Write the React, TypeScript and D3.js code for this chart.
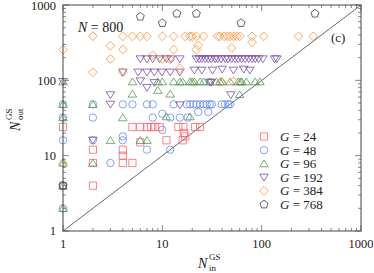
import React from 'react';
import * as d3 from 'd3';

// N_in, N_out pairs, one array per G
const g24: [number, number][] = [
  [1, 4], [1, 24], [2, 4], [2, 8], [2, 12], [4, 8], [4, 10], [4, 12], [5, 8],
  [5, 24], [6, 24], [7, 24], [7.7, 24], [8.4, 24], [9.4, 24], [6, 15], [11, 16],
  [16, 16], [14.5, 24], [16.3, 24], [21.4, 24], [24, 24], [16.5, 20], [17, 18],
];
const g48: [number, number][] = [
  [1, 2], [1, 4], [1, 16], [1, 32], [1, 48], [2, 16], [2, 32], [2, 48], [3, 8],
  [4, 48], [4, 18], [4, 16], [5, 48], [7, 12], [7, 48], [8, 48], [8, 32], [10, 22],
  [10, 36], [12, 12], [12, 32], [15, 32], [18, 32], [13, 48], [17.6, 48], [19, 48],
  [20.5, 48], [22, 48], [24, 48], [26, 48], [28, 48], [30, 48], [31.5, 48],
  [39.6, 48], [42.7, 48], [46, 48], [48, 48], [23, 38], [29, 38],
];
const g96: [number, number][] = [
  [1, 2], [1, 4], [1, 8], [1, 32], [1, 48], [1, 96], [2, 8], [2, 48], [3, 16],
  [4, 32], [6, 16], [7, 16], [5, 96], [5, 66], [9, 96], [9, 74], [10, 96], [12, 66],
  [13, 96], [15, 96], [16, 96], [19, 96], [20, 96], [21, 96], [24, 96], [26, 96],
  [30, 96], [35, 96], [38, 96], [40, 96], [48, 96], [58, 96], [61, 96], [63, 96],
  [70, 96], [86, 96], [96, 96], [60, 65], [19, 33], [11, 33],
];
const g192: [number, number][] = [
  [1, 96], [2, 16], [3, 64], [3, 48], [15, 47], [30, 94], [31, 94], [49, 64],
  [6, 192], [7, 192], [8, 192], [9.4, 192], [11, 192], [12.2, 192], [15, 192],
  [22, 192], [23.5, 192], [25, 192], [27, 192], [29, 192], [31, 192], [34, 192],
  [36, 192], [39, 192], [43, 192], [46, 192], [50, 192], [54, 192], [58, 192],
  [63, 192], [68, 192], [74, 192], [80, 192], [86, 192], [93, 192], [103, 192],
  [135, 192], [142, 192],
  [4, 128], [5.7, 128], [7, 128], [8.3, 128], [9.9, 128], [12, 128], [15, 128],
  [21, 136], [25, 136], [32, 136], [40, 140], [52, 136], [66, 140], [76, 136],
  [6, 98], [7, 80], [8.3, 93],
];
const g384: [number, number][] = [
  [1, 256], [2, 384], [2, 128], [3, 288], [3, 192], [4, 256], [4, 128], [4, 384],
  [5, 384], [6, 384], [7, 384], [8, 215], [10, 384], [10, 192], [13, 384], [13, 256],
  [15, 144], [17, 384], [19, 384], [20, 384], [22, 384], [22, 256], [23, 290],
  [26, 384], [36, 384], [38, 384], [42, 384], [45, 384], [48, 384], [52, 384],
  [56, 384], [60, 384], [80, 384], [80, 320], [105, 384], [235, 384], [330, 384],
  [50, 270], [39, 96], [52, 96], [1, 8], [12, 190],
];
const g768: [number, number][] = [
  [1, 4], [6, 700], [10, 576], [14, 768], [22, 768], [62, 576], [344, 768],
];

const groupSizes = ['24', '48', '96', '192', '384', '768'];
const seriesData = [g24, g48, g96, g192, g384, g768];
const shapes = ['square', 'circle', 'triangle', 'down', 'diamond', 'pentagon'];
const colors = ['#ff5c5c', '#5f86ea', '#4f944f', '#73459e', '#ff8a2c', '#333333'];

const axisValues = [1, 10, 100, 1000];

const W = 374;
const H = 273;
const box = { left: 63, right: 361, top: 5, bottom: 231 };
const FONT = '"Liberation Serif", "DejaVu Serif", serif';

function markerPath(shape: string, cx: number, cy: number): string {
  switch (shape) {
    case 'square': {
      const h = 3.6;
      return `M${cx - h},${cy - h}H${cx + h}V${cy + h}H${cx - h}Z`;
    }
    case 'circle': {
      const r = 3.7;
      return `M${cx - r},${cy}A${r},${r} 0 1,0 ${cx + r},${cy}A${r},${r} 0 1,0 ${cx - r},${cy}Z`;
    }
    case 'triangle': {
      const w = 4.3, h = 3.7;
      return `M${cx},${cy - h}L${cx + w},${cy + h * 0.85}L${cx - w},${cy + h * 0.85}Z`;
    }
    case 'down': {
      const w = 4.3, h = 3.7;
      return `M${cx},${cy + h}L${cx + w},${cy - h * 0.85}L${cx - w},${cy - h * 0.85}Z`;
    }
    case 'diamond': {
      const d = 4.4;
      return `M${cx},${cy - d}L${cx + d},${cy}L${cx},${cy + d}L${cx - d},${cy}Z`;
    }
    default: {
      const r = 4.2;
      const pts = d3.range(5).map((i) => {
        const a = -Math.PI / 2 + (i * 2 * Math.PI) / 5;
        return `${cx + r * Math.cos(a)},${cy + r * Math.sin(a)}`;
      });
      return `M${pts.join('L')}Z`;
    }
  }
}

export default function App() {
  const x = d3.scaleLog().domain([1, 1000]).range([box.left, box.right]);
  const y = d3.scaleLog().domain([1, 1000]).range([box.bottom, box.top]);

  const ticks: { v: number; major: boolean }[] = [];
  for (let d = 0; d < 3; d++) {
    for (let k = 1; k < 10; k++) ticks.push({ v: k * Math.pow(10, d), major: k === 1 });
  }
  ticks.push({ v: 1000, major: true });

  const tickStroke = '#555';
  const legendTop = 136.5;
  const legendStep = 13.6;

  return (
    <svg
      width={W}
      height={H}
      style={{ position: 'absolute', left: 0, top: 0, background: '#fff' }}
      fontFamily={FONT}
    >
      {/* diagonal y = x */}
      <line
        x1={x(1)} y1={y(1)} x2={x(1000)} y2={y(1000)}
        stroke="#444" strokeWidth={0.8}
      />

      {/* markers */}
      {seriesData.map((data, si) => (
        <g key={si} fill="none" stroke={colors[si]} strokeWidth={0.9} strokeOpacity={0.85}>
          {data.map(([a, b], i) => (
            <path key={i} d={markerPath(shapes[si], x(a), y(b))} />
          ))}
        </g>
      ))}

      {/* ticks on all four sides */}
      {ticks.map((t, i) => {
        const len = t.major ? 6 : 3;
        const px = x(t.v);
        const py = y(t.v);
        return (
          <g key={i} stroke={tickStroke} strokeWidth={0.7}>
            <line x1={px} x2={px} y1={box.bottom} y2={box.bottom - len} />
            <line x1={px} x2={px} y1={box.top} y2={box.top + len} />
            <line x1={box.left} x2={box.left + len} y1={py} y2={py} />
            <line x1={box.right} x2={box.right - len} y1={py} y2={py} />
          </g>
        );
      })}

      {/* frame */}
      <rect
        x={box.left} y={box.top}
        width={box.right - box.left} height={box.bottom - box.top}
        fill="none" stroke="#444" strokeWidth={1}
      />

      {/* tick labels */}
      {axisValues.map((v) => (
        <text key={'y' + v} x={box.left - 7} y={Math.max(y(v) + 4.3, 10)} textAnchor="end" fontSize={12.5} fill="#222">
          {v}
        </text>
      ))}
      {axisValues.map((v) => (
        <text key={'x' + v} x={x(v)} y={248} textAnchor="middle" fontSize={12.5} fill="#222">
          {v}
        </text>
      ))}

      {/* x axis label */}
      <g fill="#222">
        <text x={198} y={268} fontSize={14} fontStyle="italic">N</text>
        <text x={209} y={260} fontSize={9}>GS</text>
        <text x={209} y={271} fontSize={9}>in</text>
      </g>

      {/* y axis label */}
      <g fill="#222" transform="rotate(-90)">
        <text x={-131} y={20} fontSize={14} fontStyle="italic">N</text>
        <text x={-120} y={12} fontSize={9}>GS</text>
        <text x={-120} y={23} fontSize={9}>out</text>
      </g>

      {/* annotations */}
      <text x={78} y={32} fontSize={14} fill="#222">
        <tspan fontStyle="italic">N</tspan> = 800
      </text>
      <text x={331} y={42} fontSize={13} fill="#222">(c)</text>

      {/* legend */}
      {groupSizes.map((g, i) => {
        const cy = legendTop + i * legendStep;
        return (
          <g key={g}>
            <path
              d={markerPath(shapes[i], 264, cy)}
              fill="none" stroke={colors[i]} strokeWidth={0.9} strokeOpacity={0.85}
            />
            <text x={280} y={cy + 4.5} fontSize={13} fill="#222">
              <tspan fontStyle="italic">G</tspan> = {g}
            </text>
          </g>
        );
      })}
    </svg>
  );
}
